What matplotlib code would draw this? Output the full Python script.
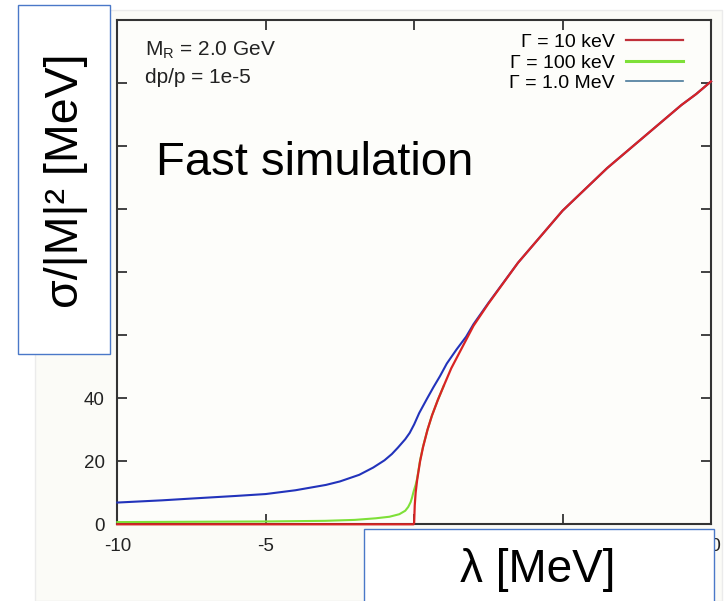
import matplotlib
matplotlib.use("Agg")
import matplotlib.pyplot as plt
from matplotlib.patches import Rectangle

# ---- data ----
lam_red = [-10, -0.02, 0.0, 0.02, 0.05, 0.1, 0.2, 0.3, 0.45, 0.6, 0.8, 1.0, 1.25, 1.5, 1.75,
           2.0, 2.5, 3.0, 3.5, 4.0, 4.5, 5.0, 5.5, 6.0, 6.5, 7.0, 7.5, 8.0, 8.5, 9.0, 9.5, 10]
sig_red = [0, 0, 0.5, 6, 10, 14, 20, 24.5, 30, 34.5, 39.5, 44, 49.5, 54, 58.5,
           63, 70, 76.5, 83, 88.5, 94, 99.5, 104, 108.5, 113, 117, 121, 125, 129, 133, 136.5, 140.5]

lam_green = [-10, -5, -3, -2, -1.3, -0.83, -0.5, -0.3, -0.2, -0.12, -0.07, -0.03, 0.0, 0.05,
             0.1, 0.2, 0.3, 0.45, 0.6, 0.8, 1.0]
sig_green = [0.7, 0.9, 1.1, 1.4, 1.9, 2.4, 3.2, 4.3, 5.5, 7.0, 8.5, 10, 11, 12.5,
             14.5, 20.3, 24.7, 30, 34.5, 39.5, 44]

lam_blue = [-10, -8.5, -7.45, -6, -5, -4, -2.97, -2.5, -1.85, -1.38, -1.0, -0.75, -0.55,
            -0.3, -0.15, 0.0, 0.17, 0.43, 0.65, 0.87, 1.1, 1.43, 1.75, 2.0, 2.5, 3.0, 3.5,
            4.0, 4.5, 5.0, 5.5, 6.0, 6.5, 7.0, 7.5, 8.0, 8.5, 9.0, 9.5, 10]
sig_blue = [6.9, 7.6, 8.2, 9.0, 9.6, 10.8, 12.5, 13.6, 15.7, 18.0, 20.3, 22.3, 24.3,
            27, 29, 31.7, 35.3, 39.8, 43.5, 47, 51, 55.5, 59.5, 63.5, 70.2, 76.6, 83,
            88.5, 94, 99.5, 104, 108.5, 113, 117, 121, 125, 129, 133, 136.5, 140.5]

labels = ["Γ = 10 keV", "Γ = 100 keV", "Γ = 1.0 MeV"]
x_ticks = [-10, -5, 0, 5, 10]
# "0" and "5" are covered by the x-label box in the reference
x_tick_labels = ["-10", "-5", "", "", "10"]
y_ticks = [0, 20, 40, 60, 80, 100, 120, 140, 160]
# labels above 40 are covered by the y-label box in the reference
y_tick_labels = ["0", "20", "40", "", "", "", "", "", ""]

FONT = ["Liberation Sans", "DejaVu Sans"]
plt.rcParams["font.family"] = FONT

W, H = 727, 601
fig = plt.figure(figsize=(W / 100, H / 100), dpi=100)
fig.patch.set_facecolor("white")

# faint screenshot panel
fig.add_artist(Rectangle((35 / W, 0), (722 - 35) / W, 1 - 10 / H, transform=fig.transFigure,
                         facecolor="#fbfbf7", edgecolor="#ebebeb", lw=1, zorder=-5))

ax = fig.add_axes([117.3 / W, 1 - 524.3 / H, (711 - 117.3) / W, (524.3 - 20) / H])
ax.set_facecolor("#fdfdfa")

lb, = ax.plot(lam_blue, sig_blue, color="#2233bb", lw=1.5, clip_on=False, zorder=3)
lg, = ax.plot(lam_green, sig_green, color="#7ee038", lw=1.5, clip_on=False, zorder=4)
lr, = ax.plot(lam_red, sig_red, color="#d82424", lw=1.6, clip_on=False, zorder=5)

ax.set_xlim(-10, 10)
ax.set_ylim(0, 160)
ax.set_xticks(x_ticks)
ax.set_yticks(y_ticks)
ax.set_xticklabels(x_tick_labels)
ax.set_yticklabels(y_tick_labels)
ax.tick_params(direction="in", length=7, width=1.2, top=True, right=True,
               labelsize=13.5, colors="#222222")
ax.tick_params(axis="y", pad=9)
ax.tick_params(axis="x", pad=10)
for s in ax.spines.values():
    s.set_color("#333333")
    s.set_linewidth(1.5)

leg = ax.legend([lr, lg, lb], labels, loc="upper right", frameon=False, markerfirst=False,
                fontsize=14, handlelength=2.9, handletextpad=0.6, labelspacing=0.15,
                borderaxespad=0.3, bbox_to_anchor=(0.975, 1.0))
leg.legend_handles[2].set_color("#4a7a9a")
leg.legend_handles[2].set_linewidth(1.2)
leg.legend_handles[0].set_color("#c0303a")
leg.legend_handles[1].set_linewidth(2.2)

ax.text(0.046, 0.93, "M$_\\mathregular{R}$ = 2.0 GeV", transform=ax.transAxes,
        fontsize=15, va="baseline", ha="left", color="#222222")
ax.text(0.046, 0.875, "dp/p = 1e-5", transform=ax.transAxes,
        fontsize=15, va="baseline", ha="left", color="#222222")
ax.text(0.066, 0.693, "Fast simulation", transform=ax.transAxes,
        fontsize=34, va="baseline", ha="left", color="black")

# label boxes (overlaid like the reference)
fig.add_artist(Rectangle((18.3 / W, 1 - 354 / H), (110 - 18.3) / W, (354 - 5) / H,
                         transform=fig.transFigure, facecolor="white",
                         edgecolor="#4a78c8", lw=1.0, zorder=10))
fig.text(66 / W, 1 - 180.5 / H, "σ/|M|² [MeV]", rotation=90, ha="center", va="center",
         fontsize=33.5, color="black", zorder=11)

fig.add_artist(Rectangle((364 / W, -0.02), (714 - 364) / W, 0.02 + (1 - 529.3 / H),
                         transform=fig.transFigure, facecolor="white",
                         edgecolor="#4a78c8", lw=1.0, zorder=10))
fig.text(538 / W, 1 - 570 / H, "λ [MeV]", ha="center", va="center",
         fontsize=33, color="black", zorder=11)

fig.savefig("out.png", dpi=100)
